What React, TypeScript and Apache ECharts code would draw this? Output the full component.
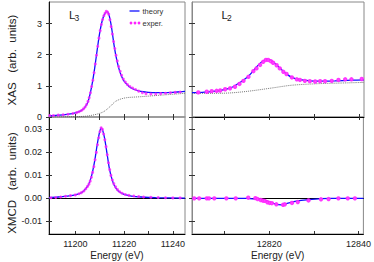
import React, { useEffect, useRef } from "react";
import * as echarts from "echarts";

type P = [number, number];

// ---------- data ----------
const l3Ticks = [11200, 11210, 11220, 11230, 11240];
const l3Labels = [11200, 11220, 11240];
const l2Ticks = [12810, 12820, 12830, 12840];
const l2Labels = [12820, 12840];
const xasTicks = [0, 1, 2, 3];
const xmcdTicks = [-0.01, 0, 0.01, 0.02, 0.03];

const l3XasTheory: P[] = [
  [11189.2, 0.04], [11192, 0.05], [11195, 0.07], [11198, 0.1], [11200, 0.13],
  [11202, 0.19], [11203.5, 0.27], [11205, 0.45], [11206, 0.72], [11207, 1.1],
  [11208, 1.6], [11209, 2.17], [11210, 2.7], [11211, 3.08], [11212, 3.3],
  [11213, 3.38], [11214, 3.22], [11215, 2.8], [11216, 2.25], [11217, 1.83],
  [11218, 1.52], [11219, 1.3], [11220, 1.15], [11222, 0.98], [11224, 0.89],
  [11226, 0.84], [11228, 0.81], [11230, 0.79], [11233, 0.78], [11236, 0.78],
  [11240, 0.79], [11243, 0.81], [11245, 0.82],
];
const l3XasStep: P[] = [
  [11189.2, 0.0], [11200, 0.01], [11204.7, 0.03], [11208.8, 0.09], [11211.6, 0.17],
  [11214.2, 0.33], [11216.3, 0.49], [11218.4, 0.57], [11221, 0.62], [11226.6, 0.65],
  [11235, 0.7], [11245, 0.76],
];
const l3XasExper: P[] = [
  [11189.5, 0.05], [11191, 0.05], [11193, 0.06], [11195, 0.07], [11197, 0.09],
  [11199, 0.11], [11200.5, 0.14], [11201.5, 0.17], [11202.5, 0.21], [11203.3, 0.26],
  [11204, 0.32], [11204.6, 0.4], [11205.2, 0.5], [11205.7, 0.62], [11206.2, 0.78],
  [11206.7, 0.98], [11207.2, 1.18], [11207.7, 1.42], [11208.2, 1.7], [11208.7, 1.98],
  [11209.2, 2.27], [11209.7, 2.53], [11210.2, 2.77], [11210.7, 2.97], [11211.2, 3.13],
  [11211.7, 3.25], [11212.2, 3.33], [11212.7, 3.39], [11213.2, 3.37], [11213.7, 3.3],
  [11214.2, 3.12], [11214.7, 2.9], [11215.2, 2.66], [11215.7, 2.42], [11216.2, 2.2],
  [11216.7, 1.98], [11217.2, 1.8], [11217.8, 1.62], [11218.4, 1.47], [11219, 1.34],
  [11219.7, 1.22], [11220.5, 1.12], [11221.4, 1.04], [11222.4, 0.98], [11223.5, 0.93],
  [11224.7, 0.88], [11226, 0.83], [11227.5, 0.78], [11229, 0.75], [11231, 0.74],
  [11233, 0.74], [11235, 0.75], [11237, 0.76], [11239, 0.78], [11241, 0.79],
  [11243, 0.8],
];

const l2XasTheory: P[] = [
  [12802.7, 0.78], [12805.5, 0.8], [12808.5, 0.84], [12810.8, 0.91], [12812, 0.98],
  [12813, 1.07], [12814.2, 1.19], [12815.3, 1.31], [12816.3, 1.47], [12817.2, 1.62],
  [12818.3, 1.77], [12819.4, 1.85], [12820.3, 1.82], [12821.2, 1.72], [12822, 1.61],
  [12823, 1.48], [12824, 1.36], [12825, 1.27], [12826, 1.22], [12827.2, 1.19],
  [12829, 1.16], [12831, 1.15], [12834.6, 1.16], [12838.3, 1.18], [12841.1, 1.19],
];
const l2XasStep: P[] = [
  [12802.7, 0.76], [12808.6, 0.76], [12812, 0.78], [12816, 0.84], [12820.5, 0.93],
  [12825, 1.02], [12831, 1.07], [12836, 1.09], [12841.1, 1.11],
];
const l2XasExper: P[] = [
  [12804.1, 0.79], [12806.0, 0.81], [12807.1, 0.83], [12808.2, 0.84], [12809.0, 0.85],
  [12810.1, 0.89], [12811.2, 0.92], [12812.3, 0.97], [12813.3, 1.06], [12814.2, 1.16],
  [12815.3, 1.29], [12816.4, 1.47], [12817.1, 1.56], [12817.9, 1.67], [12818.6, 1.77],
  [12819.2, 1.83], [12819.7, 1.83], [12820.3, 1.79], [12820.8, 1.74], [12821.6, 1.66],
  [12822.3, 1.56], [12823.1, 1.45], [12823.8, 1.38], [12825.0, 1.27], [12826.1, 1.21],
  [12826.8, 1.19], [12827.9, 1.16], [12829.0, 1.15], [12830.2, 1.14], [12831.3, 1.15],
  [12832.4, 1.15], [12833.9, 1.16], [12835.4, 1.19], [12836.9, 1.21], [12838.3, 1.21],
  [12840.6, 1.22],
];

const l3XmcdTheory: P[] = [
  [11189.2, 0.0003], [11193, 0.0006], [11196.5, 0.001], [11200, 0.0015], [11203, 0.0028],
  [11205, 0.0052], [11206, 0.0075], [11207, 0.0112], [11208, 0.0166], [11209, 0.0235],
  [11210, 0.029], [11210.6, 0.0307], [11211.2, 0.0297], [11212, 0.0262], [11213, 0.0196],
  [11214, 0.0128], [11215, 0.0085], [11216, 0.0056], [11217.5, 0.0033], [11220, 0.0017],
  [11223, 0.001], [11227, 0.0006], [11233, 0.0003], [11245, 0.0001],
];
const l3XmcdExper: P[] = [
  [11190, 0.0003], [11192, 0.0004], [11194, 0.0006], [11196, 0.0009], [11198, 0.0012],
  [11200, 0.0015], [11201.5, 0.002], [11202.5, 0.0025], [11203.5, 0.0032], [11204.3, 0.0042],
  [11205, 0.0052], [11205.6, 0.0062], [11206.1, 0.0075], [11206.6, 0.0092], [11207.1, 0.0113],
  [11207.6, 0.0138], [11208.1, 0.0168], [11208.6, 0.02], [11209.1, 0.0233], [11209.6, 0.0264],
  [11210.1, 0.029], [11210.6, 0.0307], [11211.1, 0.03], [11211.6, 0.028], [11212.1, 0.0255],
  [11212.6, 0.0225], [11213.1, 0.019], [11213.6, 0.0155], [11214.1, 0.0125], [11214.6, 0.01],
  [11215.2, 0.008], [11215.8, 0.0064], [11216.5, 0.005], [11217.3, 0.0038], [11218.2, 0.0029],
  [11219.2, 0.0022], [11220.5, 0.0017], [11222, 0.0013], [11224, 0.001], [11226, 0.0008],
  [11228, 0.0006], [11231, 0.0005], [11234, 0.0004], [11237, 0.0003], [11240, 0.0002],
  [11243, 0.0002],
];

const l2XmcdTheory: P[] = [
  [12802.7, 0], [12815, 0], [12816.5, -0.0002], [12818.3, -0.0006], [12819.8, -0.0014],
  [12821.3, -0.0024], [12822.7, -0.0028], [12824.2, -0.0021], [12826.4, -0.0011],
  [12828.6, -0.0006], [12831.6, -0.0001], [12834, 0], [12841.1, 0],
];
const l2XmcdExper: P[] = [
  [12803.2, 0], [12804.3, 0], [12806.0, 0], [12806.5, 0], [12807.7, 0],
  [12810.4, 0], [12812.5, 0], [12815.3, 0.0003], [12816.9, 0.0001], [12817.4, -0.0003],
  [12818.1, -0.0007], [12818.6, -0.001], [12819.0, -0.0011], [12819.6, -0.0017], [12820.1, -0.002],
  [12820.6, -0.0021], [12821.6, -0.0026], [12823.1, -0.0028], [12823.5, -0.0026], [12825.1, -0.002],
  [12826.4, -0.0016], [12828.8, -0.0009], [12831.6, -0.0004], [12833.3, -0.0003], [12835.5, 0],
  [12837.6, 0], [12839.2, 0],
];

// ---------- styling ----------
const FONT = "'Liberation Sans', Arial, Helvetica, sans-serif";
const BLUE = "#1010ff";
const MAGENTA = "#ff22ff";
const TXT = "#222";

const L3_EXT = [11189.2, 11245];
const L2_EXT = [12802.7, 12841.1];
const XAS_EXT = [0, 3.69];
const XMCD_EXT = [-0.0155, 0.0354];

function xAx(grid: number, ext: number[], ticks: number[], labels: number[] | null, o: any) {
  return {
    type: "value",
    gridIndex: grid,
    min: ext[0],
    max: ext[1],
    position: "bottom",
    splitLine: { show: false },
    axisLine: { show: o.line !== undefined, onZero: false, lineStyle: { color: o.line, width: o.lw || 1 } },
    axisTick: { show: true, inside: o.inside, length: 3, customValues: ticks, lineStyle: { color: "#333" } },
    axisLabel: labels
      ? {
          show: true,
          customValues: labels,
          fontSize: 9,
          color: TXT,
          fontFamily: FONT,
          margin: 5,
          formatter: (v: number) => String(Math.round(v)),
        }
      : { show: false },
    name: o.name,
    nameLocation: "middle",
    nameGap: 16,
    nameTextStyle: { fontSize: 10, color: TXT, fontFamily: FONT },
  };
}

function yAx(grid: number, ext: number[], ticks: number[], labels: boolean, o: any) {
  return {
    type: "value",
    gridIndex: grid,
    min: ext[0],
    max: ext[1],
    position: "left",
    splitLine: { show: false },
    axisLine: { show: o.line !== undefined, onZero: false, lineStyle: { color: o.line, width: 1 } },
    axisTick: { show: true, inside: o.inside, length: 3, customValues: ticks, lineStyle: { color: "#333" } },
    axisLabel: labels
      ? {
          show: true,
          customValues: ticks,
          fontSize: 9,
          color: TXT,
          fontFamily: FONT,
          margin: 7,
          formatter: o.fmt,
        }
      : { show: false },
  };
}

function zeroX(grid: number, ext: number[], yIndex: number) {
  return {
    type: "value",
    gridIndex: grid,
    min: ext[0],
    max: ext[1],
    splitLine: { show: false },
    axisLine: { show: true, onZero: true, onZeroAxisIndex: yIndex, lineStyle: { color: "#000", width: 1 } },
    axisTick: { show: false },
    axisLabel: { show: false },
  };
}

export default function App() {
  const ref = useRef<HTMLDivElement>(null);
  useEffect(() => {
    if (!ref.current) return;
    const chart = echarts.init(ref.current, null, { renderer: "svg" });
    const intFmt = (v: number) => String(Math.round(v));
    const decFmt = (v: number) => (Math.abs(v) < 1e-9 ? "0.00" : v.toFixed(2));

    const theory = (data: P[], xi: number, yi: number) => ({
      type: "line",
      data,
      xAxisIndex: xi,
      yAxisIndex: yi,
      smooth: 0.3,
      symbol: "none",
      lineStyle: { color: BLUE, width: 1.3 },
      z: 3,
    });
    const step = (data: P[], xi: number, yi: number) => ({
      type: "line",
      data,
      xAxisIndex: xi,
      yAxisIndex: yi,
      smooth: 0.3,
      symbol: "none",
      lineStyle: { color: "#555", width: 0.8, type: [1, 1] },
      z: 2,
    });
    const exper = (data: P[], xi: number, yi: number, hollow: boolean) => ({
      type: "scatter",
      data,
      xAxisIndex: xi,
      yAxisIndex: yi,
      symbol: hollow ? "emptyCircle" : "circle",
      symbolSize: hollow ? 2.4 : 3,
      itemStyle: hollow
        ? { color: MAGENTA, borderColor: MAGENTA, borderWidth: 0.8, opacity: 0.9 }
        : { color: MAGENTA },
      z: 4,
    });

    chart.setOption({
      animation: false,
      textStyle: { fontFamily: FONT },
      grid: [
        { left: 49, top: 2, width: 136, height: 115, show: true, borderColor: "#888", borderWidth: 1 },
        { left: 192, top: 2, width: 172, height: 115, show: true, borderColor: "#888", borderWidth: 1 },
        { left: 49, top: 117, width: 136, height: 117, show: true, borderColor: "#888", borderWidth: 1 },
        { left: 192, top: 117, width: 172, height: 117, show: true, borderColor: "#888", borderWidth: 1 },
      ],
      xAxis: [
        xAx(0, L3_EXT, l3Ticks, null, { line: "#999", lw: 1.6, inside: true }),
        xAx(0, L3_EXT, l3Ticks, null, { inside: false }),
        xAx(1, L2_EXT, l2Ticks, null, { line: "#000", inside: true }),
        xAx(1, L2_EXT, l2Ticks, null, { inside: false }),
        xAx(2, L3_EXT, l3Ticks, l3Labels, { line: "#000", inside: true, name: "Energy (eV)" }),
        zeroX(2, L3_EXT, 4),
        xAx(3, L2_EXT, l2Ticks, l2Labels, { line: "#000", inside: true, name: "Energy (eV)" }),
        zeroX(3, L2_EXT, 6),
      ],
      yAxis: [
        yAx(0, XAS_EXT, xasTicks, true, { line: "#111", inside: true, fmt: intFmt }),
        yAx(0, XAS_EXT, xasTicks, false, { inside: false }),
        yAx(1, XAS_EXT, xasTicks, false, { line: "#888", inside: true }),
        yAx(1, XAS_EXT, xasTicks, false, { inside: false }),
        yAx(2, XMCD_EXT, xmcdTicks, true, { line: "#111", inside: true, fmt: decFmt }),
        yAx(2, XMCD_EXT, xmcdTicks, false, { inside: false }),
        yAx(3, XMCD_EXT, xmcdTicks, false, { line: "#888", inside: true }),
        yAx(3, XMCD_EXT, xmcdTicks, false, { inside: false }),
      ],
      series: [
        step(l3XasStep, 0, 0),
        theory(l3XasTheory, 0, 0),
        exper(l3XasExper, 0, 0, false),
        step(l2XasStep, 2, 2),
        theory(l2XasTheory, 2, 2),
        exper(l2XasExper, 2, 2, true),
        theory(l3XmcdTheory, 4, 4),
        exper(l3XmcdExper, 4, 4, false),
        theory(l2XmcdTheory, 6, 6),
        exper(l2XmcdExper, 6, 6, true),
      ],
      graphic: [
        {
          type: "text",
          x: 12,
          y: 60,
          rotation: Math.PI / 2,
          style: {
            text: "XAS   (arb.  units)",
            fontSize: 11.5,
            fontFamily: FONT,
            fill: TXT,
            align: "center",
            verticalAlign: "middle",
          },
        },
        {
          type: "text",
          x: 12,
          y: 183,
          rotation: Math.PI / 2,
          style: {
            text: "XMCD   (arb.  units)",
            fontSize: 11.5,
            fontFamily: FONT,
            fill: TXT,
            align: "center",
            verticalAlign: "middle",
          },
        },
        { type: "text", x: 69, y: 14.5, style: { text: "L", fontSize: 11.5, fontFamily: FONT, fill: TXT, verticalAlign: "middle" } },
        { type: "text", x: 74.5, y: 17.8, style: { text: "3", fontSize: 8.5, fontFamily: FONT, fill: TXT, verticalAlign: "middle" } },
        { type: "text", x: 221.5, y: 15, style: { text: "L", fontSize: 11.5, fontFamily: FONT, fill: TXT, verticalAlign: "middle" } },
        { type: "text", x: 227, y: 18.3, style: { text: "2", fontSize: 8.5, fontFamily: FONT, fill: TXT, verticalAlign: "middle" } },
        { type: "line", shape: { x1: 129.5, y1: 11, x2: 139.5, y2: 11 }, style: { stroke: BLUE, lineWidth: 1.3 } },
        { type: "circle", shape: { cx: 131, cy: 23, r: 1.4 }, style: { fill: MAGENTA } },
        { type: "circle", shape: { cx: 135, cy: 23, r: 1.4 }, style: { fill: MAGENTA } },
        { type: "circle", shape: { cx: 139, cy: 23, r: 1.4 }, style: { fill: MAGENTA } },
        { type: "text", x: 142.5, y: 11, style: { text: "theory", fontSize: 7.5, fontFamily: FONT, fill: "#333", verticalAlign: "middle" } },
        { type: "text", x: 142.5, y: 23, style: { text: "exper.", fontSize: 7.5, fontFamily: FONT, fill: "#333", verticalAlign: "middle" } },
      ],
    });
    return () => chart.dispose();
  }, []);
  return (
    <div
      ref={ref}
      style={{ position: "fixed", left: 0, top: 0, width: 374, height: 262, background: "#fff" }}
    />
  );
}
